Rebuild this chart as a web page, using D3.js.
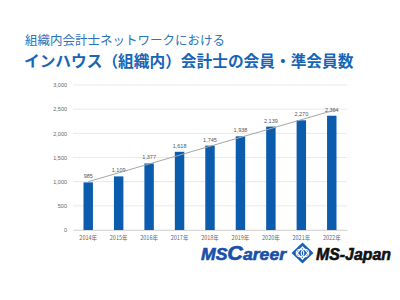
<!DOCTYPE html>
<html><head><meta charset="utf-8">
<script src="https://cdn.jsdelivr.net/npm/d3@7"></script>
<style>html,body{margin:0;padding:0;background:#fff;}svg{display:block;}</style>
</head><body>
<svg id="c" width="400" height="300"></svg>
<script>
const categories = ["2014年","2015年","2016年","2017年","2018年","2019年","2020年","2021年","2022年"];
const members = [985,1109,1377,1618,1745,1938,2139,2270,2364];
const yTicks = [0,500,1000,1500,2000,2500,3000];
const trendEnds = [1000, 2465];
const titleLine1 = "組織内会計士ネットワークにおける";
const titleLine2 = "インハウス（組織内）会計士の会員・準会員数";

const svg = d3.select("#c");
const jp = "'Noto Sans CJK JP','Noto Sans',sans-serif";

svg.append("text").attr("x",25).attr("y",45).attr("font-family",jp)
  .attr("font-size",12.5).attr("fill","#2a73bd").text(titleLine1);
svg.append("text").attr("x",24).attr("y",67).attr("font-family",jp)
  .attr("font-size",15.7).attr("font-weight","bold").attr("fill","#1766b6").text(titleLine2);

const x = d3.scaleBand().domain(categories).range([73,347]).paddingInner(0.69).paddingOuter(0.345);
const y = d3.scaleLinear().domain([0,3000]).range([230,85]);

const g = svg.append("g");
g.selectAll("line.grid").data(yTicks).join("line").attr("class","grid")
  .attr("x1",73).attr("x2",347).attr("y1",d=>y(d)).attr("y2",d=>y(d))
  .attr("stroke","#e3e3e3").attr("stroke-width",0.8);

const yAxis = d3.axisLeft(y).tickValues(yTicks).tickFormat(d3.format(",")).tickSize(0).tickPadding(6);
const ya = svg.append("g").attr("transform","translate(73,0)").call(yAxis);
ya.select(".domain").remove();
ya.selectAll("text").attr("font-family","'Liberation Sans',sans-serif").attr("font-size",5.5).attr("fill","#666");

const xAxis = d3.axisBottom(x).tickSize(0).tickPadding(6);
const xa = svg.append("g").attr("transform","translate(0,230)").call(xAxis);
xa.select(".domain").attr("stroke","#d9d9d9");
xa.selectAll("text").attr("font-family",jp).attr("font-size",5.5).attr("fill","#666");

g.selectAll("rect.bar").data(members).join("rect").attr("class","bar")
  .attr("x",(d,i)=>x(categories[i])).attr("width",x.bandwidth())
  .attr("y",d=>y(d)).attr("height",d=>y(0)-y(d)).attr("fill","#0b5cad");

g.selectAll("text.lbl").data(members).join("text").attr("class","lbl")
  .attr("x",(d,i)=>x(categories[i])+x.bandwidth()/2).attr("y",d=>y(d)-4)
  .attr("text-anchor","middle").attr("font-family","'Liberation Sans',sans-serif")
  .attr("font-size",5.5).attr("fill","#555").text(d3.format(","));

const first = categories[0], last = categories[categories.length-1];
g.append("line")
  .attr("x1",x(first)+x.bandwidth()/2).attr("y1",y(trendEnds[0]))
  .attr("x2",x(last)+x.bandwidth()/2+6).attr("y2",y(trendEnds[1]) - 6*(y(trendEnds[0])-y(trendEnds[1]))/ (x(last)-x(first)))
  .attr("stroke","#a6a6a6").attr("stroke-width",1);

// logo
const logo = svg.append("g");
logo.append("text").attr("x",201).attr("y",260).attr("font-family","'Liberation Sans',Arial,sans-serif")
  .attr("font-weight","bold").attr("font-style","italic").attr("fill","#1b4fa8")
  .attr("stroke","#1b4fa8").attr("stroke-width",0.6)
  .attr("font-size",17).attr("textLength",85).attr("lengthAdjust","spacingAndGlyphs")
  .html('<tspan font-size="17">MS</tspan><tspan font-size="21">C</tspan>areer');
const dg = logo.append("g").attr("transform","translate(302.5,253)");
dg.append("path").attr("d","M0,-10.5 L11,0 L0,10.5 L-11,0 Z").attr("fill","#1a5fb4");
dg.append("path").attr("d","M0,-6 L5.5,0 L0,6 L-5.5,0 Z").attr("fill","none").attr("stroke","#fff").attr("stroke-width",1.3);
dg.append("circle").attr("cx",-2.5).attr("cy",0).attr("r",3.8).attr("fill","none").attr("stroke","#fff").attr("stroke-width",1.1);
dg.append("circle").attr("cx",2.5).attr("cy",0).attr("r",3.8).attr("fill","none").attr("stroke","#fff").attr("stroke-width",1.1);
logo.append("text").attr("x",316).attr("y",260).attr("font-family","'Liberation Sans',Arial,sans-serif")
  .attr("font-weight","bold").attr("font-style","italic").attr("fill","#111")
  .attr("stroke","#111").attr("stroke-width",0.6)
  .attr("font-size",17).attr("textLength",75).attr("lengthAdjust","spacingAndGlyphs").text("MS-Japan");
</script>
</body></html>
